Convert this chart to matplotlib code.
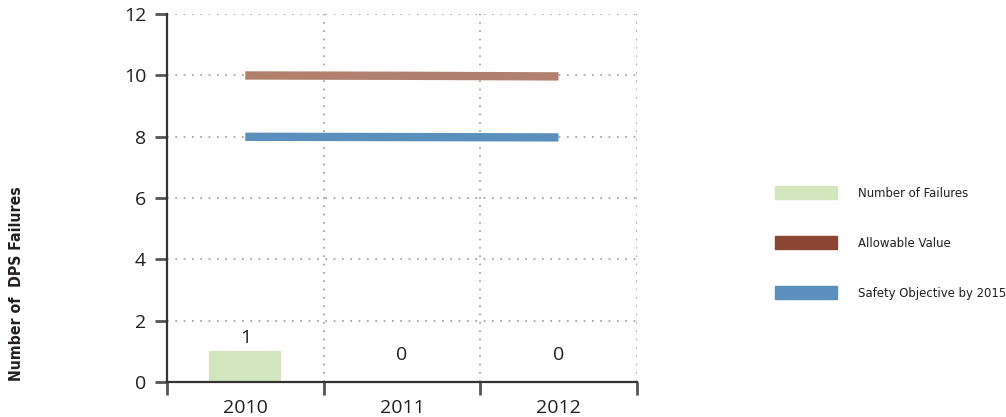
import matplotlib
matplotlib.use("Agg")
import matplotlib.pyplot as plt
from matplotlib.patches import Patch
from matplotlib import font_manager
from matplotlib.font_manager import FontProperties

years = ["2010", "2011", "2012"]
failures = [1, 0, 0]
allowable = [10.0, 9.99, 9.97]
safety = [8.0, 7.99, 7.98]
yticks = [0, 2, 4, 6, 8, 10, 12]
legend_labels = ["Number of Failures", "Allowable Value", "Safety Objective by 2015"]

fl = font_manager.fontManager.ttflist
names = {f.name for f in fl}
main_font = "Open Sans" if "Open Sans" in names else "DejaVu Sans"


def find_narrow(bold):
    cands = []
    for f in fl:
        nm = (f.name + " " + f.fname).lower()
        st = str(f.stretch).lower()
        narrowish = ("condensed" in nm or "narrow" in nm or "condensed" in st)
        if not narrowish:
            continue
        w = f.weight if isinstance(f.weight, int) else (700 if "bold" in str(f.weight) else 400)
        if (w >= 600) != bold:
            continue
        if f.style != "normal":
            continue
        cands.append(f)
    if cands:
        return FontProperties(fname=cands[0].fname)
    return None


leg_fp = find_narrow(False)
lab_fp = find_narrow(True)

bar_color = "#d1e6bd"
allow_line = "#b07f6d"
allow_leg = "#8b4533"
safety_line = "#5b90bd"
text_color = "#231f20"

fig = plt.figure(figsize=(10.06, 4.17), dpi=100)
ax = fig.add_axes([0.166, 0.084, 0.467, 0.882])

x = list(range(len(years)))
ax.bar(x, failures, width=0.46, color=bar_color, zorder=2)
ax.plot(x, allowable, color=allow_line, lw=6, solid_capstyle="butt", zorder=3)
ax.plot(x, safety, color=safety_line, lw=6, solid_capstyle="butt", zorder=3)

for xi, v in zip(x, failures):
    off = 13 if v > 0 else 27
    ax.annotate(str(v), (xi, v), xytext=(0, off), textcoords="offset pixels",
                ha="center", va="center", fontsize=14, family=main_font, color=text_color)

ax.set_xlim(-0.5, len(years) - 0.5)
ax.set_ylim(0, 12)
ax.set_yticks(yticks)
ax.set_yticklabels([str(t) for t in yticks], family=main_font, fontsize=14, color=text_color)
ax.set_xticks(x)
ax.set_xticklabels(years, family=main_font, fontsize=14, color=text_color)
ax.tick_params(axis="x", length=0, pad=12)
ax.tick_params(axis="y", length=9, width=2, color="#555555", pad=6)

bounds = [i - 0.5 for i in range(len(years) + 1)]
ax.set_xticks(bounds, minor=True)
ax.tick_params(axis="x", which="minor", length=9, width=2, color="#555555", direction="out")
for b in bounds[1:]:
    ax.axvline(b, color="#999999", lw=1.2, ls=(0, (1, 4)), zorder=1)
for t in yticks[1:]:
    ax.axhline(t, color="#999999", lw=1.2, ls=(0, (1, 4)), zorder=1)

for s in ["top", "right"]:
    ax.spines[s].set_visible(False)
for s in ["left", "bottom"]:
    ax.spines[s].set_color("#333333")
    ax.spines[s].set_linewidth(1.6)

if lab_fp is not None:
    lab_prop = lab_fp.copy()
    lab_prop.set_size(11.3)
    fig.text(0.0165, 0.319, "Number of  DPS Failures", rotation=90, ha="center", va="center",
             fontproperties=lab_prop, color=text_color)
else:
    fig.text(0.0165, 0.319, "Number of  DPS Failures", rotation=90, ha="center", va="center",
             family="Roboto", fontweight="bold", fontsize=10.5, color=text_color)

if leg_fp is not None:
    leg_prop = leg_fp.copy()
    leg_prop.set_size(9.4)
else:
    leg_prop = FontProperties(family="Roboto", size=8.5)

handles = [Patch(color=bar_color), Patch(color=allow_leg), Patch(color=safety_line)]
leg = fig.legend(handles, legend_labels, loc="center left", bbox_to_anchor=(0.760, 0.417),
                 frameon=False, handlelength=4.75, handleheight=1.15, handletextpad=1.6,
                 labelspacing=2.74, prop=leg_prop, borderpad=0.3)
for t in leg.get_texts():
    t.set_color(text_color)

fig.savefig("out.png", dpi=100)
